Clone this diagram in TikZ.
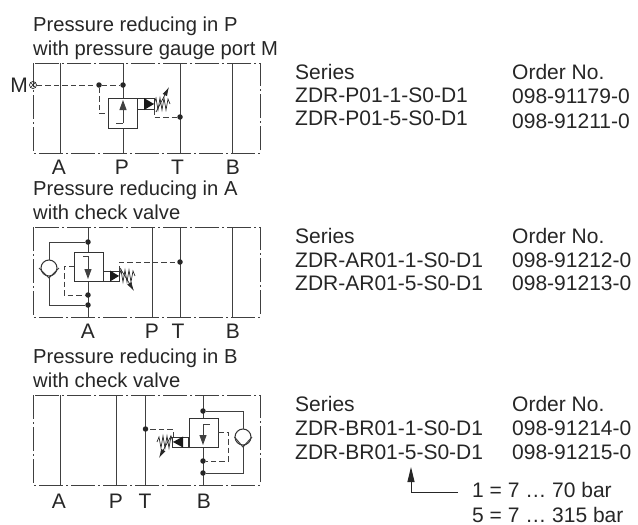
\documentclass[tikz,border=0pt]{standalone}
\usepackage{fontspec}
\setmainfont{Liberation Sans}
\usetikzlibrary{arrows.meta}
\begin{document}
\begin{tikzpicture}[x=1pt,y=-1pt,
    dot/.style={circle,fill=black!85,minimum size=5.5pt,inner sep=0pt},
    every node/.style={font=\fontsize{20.2}{22}\selectfont,text=black!85},
    lbl/.style={anchor=base west,inner sep=0pt},
    tbl/.style={anchor=base west,inner sep=0pt,font=\fontsize{21}{22}\selectfont},
    port/.style={anchor=base,inner sep=0pt,font=\fontsize{21}{22}\selectfont},
    frame/.style={black!75,line width=.8pt,dash pattern=on 24pt off 3pt on 2pt off 3pt},
    pipe/.style={black!75,line width=1pt},
    pilot/.style={black!75,line width=.8pt,dash pattern=on 5.5pt off 3pt},
    spring/.style={black!85,line width=.7pt},
    valve/.style={draw=black!80,line width=1pt,fill=white}]
    \useasboundingbox (0,0) rectangle (638,525);

    % panel one
    \node[lbl] at (33,31) {Pressure reducing in P};
    \node[lbl] at (33,55.5) {with pressure gauge port M};
    \draw[frame] (33,63) rectangle (260,153);
    \coordinate (a1t) at (60,63);
    \coordinate (a1b) at (60,153);
    \coordinate (p1t) at (123,63);
    \coordinate (p1b) at (123,153);
    \coordinate (t1t) at (180,63);
    \coordinate (t1b) at (180,153);
    \coordinate (b1t) at (232,63);
    \coordinate (b1b) at (232,153);
    \draw[pipe] (a1t) -- (a1b);
    \draw[pipe] (p1t) -- (p1b);
    \draw[pipe] (t1t) -- (t1b);
    \draw[pipe] (b1t) -- (b1b);
    \node[valve,minimum width=29pt,minimum height=30pt,inner sep=0pt] (v1) at (122.5,113) {};
    \node[valve,minimum width=17pt,minimum height=11pt,inner sep=0pt,anchor=north west] (s1) at (137,98) {};
    \fill[black!90] (144,98) -- (154,104) -- (144,110) -- cycle;
    \draw[spring] (154,104) -- (156,98) -- (158,110) -- (160,98) -- (162,110) -- (164,98) -- (166,110) -- (168,99) -- (170,104);
    \draw[spring,-{Latex[length=9pt,width=5pt]}] (156,112) -- (169,87);
    \draw[pipe,-{Triangle[length=10pt,width=7pt]}] (123,123) -- (123,100);
    \draw[pipe] (116,123) -- (123,123);
    \node[dot] (m1a) at (99,85) {};
    \node[dot] (m1b) at (123,85) {};
    \node[dot] (t1d) at (180,117) {};
    \node[circle,draw=black!85,line width=.7pt,minimum size=7pt,inner sep=0pt,path picture={\draw[line width=.6pt] (path picture bounding box.north west) -- (path picture bounding box.south east) (path picture bounding box.north east) -- (path picture bounding box.south west);}] (m1) at (33,85) {};
    \node[inner sep=0pt,anchor=east,font=\fontsize{21}{22}\selectfont] at (28,85) {M};
    \draw[pilot] (m1) -- (m1a);
    \draw[pilot] (m1a) -- (m1b);
    \draw[pilot] (m1a) |- (107,113);
    \draw[pilot] (154,109) |- (t1d);
    \node[port] at (59,174.5) {A};
    \node[port] at (122,174.5) {P};
    \node[port] at (177.5,174.5) {T};
    \node[port] at (233,174.5) {B};

    % panel two
    \node[lbl] at (33,195.5) {Pressure reducing in A};
    \node[lbl] at (33,219) {with check valve};
    \draw[frame] (33,227) rectangle (260,317);
    \coordinate (a2t) at (88,227);
    \coordinate (a2b) at (88,317);
    \coordinate (p2t) at (152,227);
    \coordinate (p2b) at (152,317);
    \coordinate (t2t) at (180,227);
    \coordinate (t2b) at (180,317);
    \coordinate (b2t) at (232,227);
    \coordinate (b2b) at (232,317);
    \draw[pipe] (a2t) -- (a2b);
    \draw[pipe] (p2t) -- (p2b);
    \draw[pipe] (t2t) -- (t2b);
    \draw[pipe] (b2t) -- (b2b);
    \node[valve,minimum width=29pt,minimum height=29pt,inner sep=0pt] (v2) at (88.5,266.5) {};
    \node[valve,minimum width=16pt,minimum height=10pt,inner sep=0pt,anchor=north west] (s2) at (103,271) {};
    \fill[black!90] (110,270.5) -- (119,276) -- (110,281.5) -- cycle;
    \draw[spring] (119,276) -- (121,270) -- (123,282) -- (125,270) -- (127,282) -- (129,270) -- (131,282) -- (133,271) -- (135,276);
    \draw[spring,-{Latex[length=9pt,width=5pt]}] (120,268) -- (134,291);
    \draw[pipe] (83,256) -- (88,256);
    \draw[pipe,-{Triangle[length=10pt,width=7pt]}] (88,256) -- (88,279);
    \node[dot] (a2u) at (88,242) {};
    \node[dot] (a2m) at (88,295) {};
    \node[dot] (a2l) at (88,305) {};
    \node[dot] (t2d) at (180,262) {};
    \node[circle,draw=black!80,line width=1pt,minimum size=16pt,inner sep=0pt] (c2) at (49,268) {};
    \draw[pipe] (39,268) -- (49,278) -- (59,268);
    \draw[pipe] (c2) |- (a2u);
    \draw[pipe] (49,276) |- (a2l);
    \draw[pilot] (119,271) |- (t2d);
    \draw[pilot] (74,266) -- (64,266) |- (a2m);
    \node[port] at (88,338) {A};
    \node[port] at (152,338) {P};
    \node[port] at (178,338) {T};
    \node[port] at (233,338) {B};

    % panel three
    \node[lbl] at (33,363.5) {Pressure reducing in B};
    \node[lbl] at (33,387) {with check valve};
    \draw[frame] (33,395) rectangle (260,485);
    \coordinate (a3t) at (60,395);
    \coordinate (a3b) at (60,485);
    \coordinate (p3t) at (116,395);
    \coordinate (p3b) at (116,485);
    \coordinate (t3t) at (145.5,395);
    \coordinate (t3b) at (145.5,485);
    \coordinate (b3t) at (203,395);
    \coordinate (b3b) at (203,485);
    \draw[pipe] (a3t) -- (a3b);
    \draw[pipe] (p3t) -- (p3b);
    \draw[pipe] (t3t) -- (t3b);
    \draw[pipe] (b3t) -- (b3b);
    \node[valve,minimum width=29pt,minimum height=29pt,inner sep=0pt] (v3) at (203.5,432.5) {};
    \node[valve,minimum width=16pt,minimum height=10pt,inner sep=0pt,anchor=north east] (s3) at (189,437) {};
    \fill[black!90] (183,436.5) -- (173,442) -- (183,447.5) -- cycle;
    \draw[spring] (173,442) -- (171,436) -- (169,448) -- (167,436) -- (165,448) -- (163,436) -- (161,448) -- (159,437) -- (157,442);
    \draw[spring,-{Latex[length=9pt,width=5pt]}] (171,436) -- (159,458);
    \draw[pipe] (203,424) -- (210,424);
    \draw[pipe,-{Triangle[length=10pt,width=7pt]}] (203,424) -- (203,445);
    \node[dot] (b3u) at (203,411) {};
    \node[dot] (b3m) at (203,461) {};
    \node[dot] (b3l) at (203,473) {};
    \node[dot] (t3d) at (145.5,429) {};
    \node[circle,draw=black!80,line width=1pt,minimum size=16pt,inner sep=0pt] (c3) at (243,437) {};
    \draw[pipe] (234.5,437) -- (243,447) -- (252,437);
    \draw[pipe] (c3) |- (b3u);
    \draw[pipe] (243,445) |- (b3l);
    \draw[pilot] (173,437) |- (t3d);
    \draw[pilot] (218,432) -- (228,432) |- (b3m);
    \node[port] at (59,508) {A};
    \node[port] at (116,508) {P};
    \node[port] at (145,508) {T};
    \node[port] at (204,508) {B};

    % order table
    \node[tbl] at (295,79) {Series};
    \node[tbl] at (295,102.5) {ZDR-P01-1-S0-D1};
    \node[tbl] at (295,125.5) {ZDR-P01-5-S0-D1};
    \node[tbl] at (512,79) {Order No.};
    \node[tbl] at (512,103.5) {098-91179-0};
    \node[tbl] at (512,128) {098-91211-0};
    \node[tbl] at (295,243.5) {Series};
    \node[tbl] at (295,267) {ZDR-AR01-1-S0-D1};
    \node[tbl] at (295,290.5) {ZDR-AR01-5-S0-D1};
    \node[tbl] at (512,243.5) {Order No.};
    \node[tbl] at (512,267) {098-91212-0};
    \node[tbl] at (512,290.5) {098-91213-0};
    \node[tbl] at (295,411) {Series};
    \node[tbl] at (295,435) {ZDR-BR01-1-S0-D1};
    \node[tbl] at (295,459) {ZDR-BR01-5-S0-D1};
    \node[tbl] at (512,411) {Order No.};
    \node[tbl] at (512,435) {098-91214-0};
    \node[tbl] at (512,459) {098-91215-0};

    % range note
    \node[tbl] (r1) at (472,497) {1 = 7 … 70 bar};
    \node[tbl] at (472,522) {5 = 7 … 315 bar};
    \coordinate (u1) at (411,467);
    \coordinate (r1a) at (458,492);
    \draw[black!85,line width=.9pt,-{Triangle[length=15pt,width=7pt]}] (r1a) -| (u1);
\end{tikzpicture}
\end{document}
